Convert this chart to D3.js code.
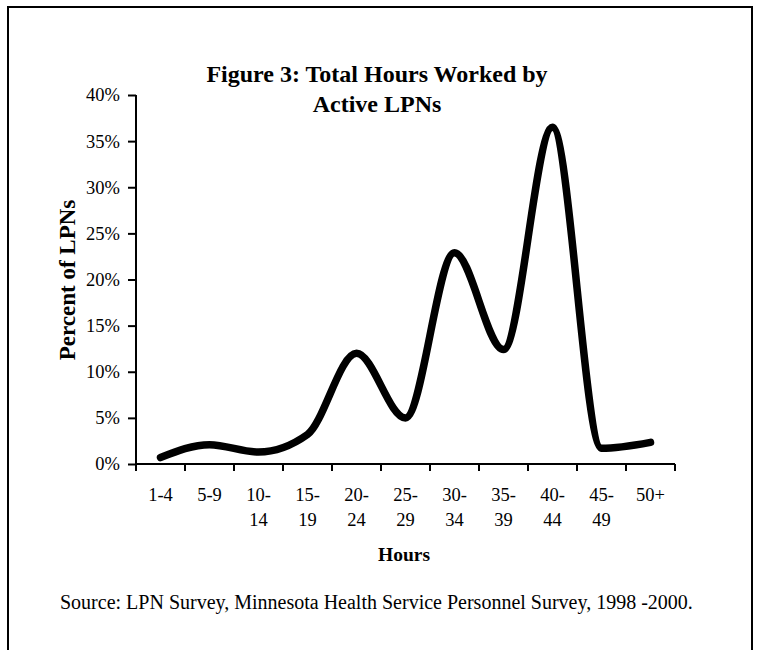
<!DOCTYPE html>
<html>
<head>
<meta charset="utf-8">
<script src="https://cdn.jsdelivr.net/npm/d3@7"></script>
<style>
  body { margin: 0; background: #fff; }
  svg text { font-family: "Liberation Serif", "Times New Roman", serif; fill: #000; }
</style>
</head>
<body>
<svg id="chart" width="762" height="650"></svg>
<script>
// hour bands on the x axis (two-line labels split on "-")
var categories = ["1-4", "5-9", "10-14", "15-19", "20-24", "25-29", "30-34", "35-39", "40-44", "45-49", "50+"];
// percent of LPNs in each band
var percentValues = [0.7, 2.1, 1.3, 3.2, 12.0, 5.0, 22.9, 12.4, 36.5, 1.7, 2.35];
var yTicks = [0, 5, 10, 15, 20, 25, 30, 35, 40];

var svg = d3.select("#chart");
svg.append("rect").attr("width", 762).attr("height", 650).attr("fill", "#fff");

// outer frame
svg.append("rect")
  .attr("x", 8).attr("y", 7)
  .attr("width", 744).attr("height", 700)
  .attr("fill", "none").attr("stroke", "#000").attr("stroke-width", 2);

var margin = { top: 95, right: 87, bottom: 186, left: 136 };
var width = 762 - margin.left - margin.right;
var height = 650 - margin.top - margin.bottom;

var x = d3.scaleBand().domain(categories).range([0, width]);
var y = d3.scaleLinear().domain([0, 40]).range([height, 0]);

var g = svg.append("g")
  .attr("transform", "translate(" + margin.left + "," + margin.top + ")");

// y axis
var yAxis = g.append("g")
  .attr("class", "y axis")
  .call(d3.axisLeft(y).tickValues(yTicks).tickSize(8).tickPadding(8).tickFormat(d => d + "%"));
yAxis.select(".domain").attr("stroke-width", 2).attr("d", "M0," + y(40) + "V" + y(0));
yAxis.selectAll(".tick line").attr("stroke-width", 2);
yAxis.selectAll("text").attr("font-size", 18.5).attr("font-family", "Liberation Serif");

// x axis: ticks on band boundaries
var xAxis = g.append("g")
  .attr("class", "x axis")
  .attr("transform", "translate(0," + height + ")");
xAxis.append("line")
  .attr("x1", 0).attr("x2", width)
  .attr("stroke", "#000").attr("stroke-width", 2);
var bounds = categories.map(c => x(c)).concat([width]);
xAxis.selectAll(".btick")
  .data(bounds)
  .enter().append("line")
  .attr("class", "btick")
  .attr("x1", d => d).attr("x2", d => d)
  .attr("y1", 0).attr("y2", 7)
  .attr("stroke", "#000").attr("stroke-width", 2);

var lbl = xAxis.selectAll(".xlabel")
  .data(categories)
  .enter().append("text")
  .attr("class", "xlabel")
  .attr("text-anchor", "middle")
  .attr("font-size", 18.5)
  .attr("transform", d => "translate(" + (x(d) + x.bandwidth() / 2) + ",0)");
lbl.each(function (d) {
  var parts = d.indexOf("-") > 0 && d.length > 3 ? [d.split("-")[0] + "-", d.split("-")[1]] : [d];
  var t = d3.select(this);
  parts.forEach((p, i) => {
    t.append("tspan").attr("x", 0).attr("y", 37 + i * 25).text(p);
  });
});

// the line
var line = d3.line()
  .x((d, i) => x(categories[i]) + x.bandwidth() / 2)
  .y(d => y(d))
  .curve(d3.curveMonotoneX);

g.append("path")
  .datum(percentValues)
  .attr("fill", "none")
  .attr("stroke", "#000")
  .attr("stroke-width", 7.5)
  .attr("stroke-linecap", "round")
  .attr("stroke-linejoin", "round")
  .attr("d", line);

// titles
var title = svg.append("text")
  .attr("text-anchor", "middle")
  .attr("font-size", 24)
  .attr("font-weight", "bold");
title.append("tspan").attr("x", 377).attr("y", 82).text("Figure 3: Total Hours Worked by");
title.append("tspan").attr("x", 377).attr("y", 112).text("Active LPNs");

svg.append("text")
  .attr("text-anchor", "middle")
  .attr("font-size", 23)
  .attr("font-weight", "bold")
  .attr("transform", "translate(75,280) rotate(-90)")
  .text("Percent of LPNs");

svg.append("text")
  .attr("x", 404).attr("y", 561)
  .attr("text-anchor", "middle")
  .attr("font-size", 19.5)
  .attr("font-weight", "bold")
  .text("Hours");

svg.append("text")
  .attr("x", 60).attr("y", 609)
  .attr("font-size", 20)
  .text("Source: LPN Survey, Minnesota Health Service Personnel Survey, 1998 -2000.");
</script>
</body>
</html>
